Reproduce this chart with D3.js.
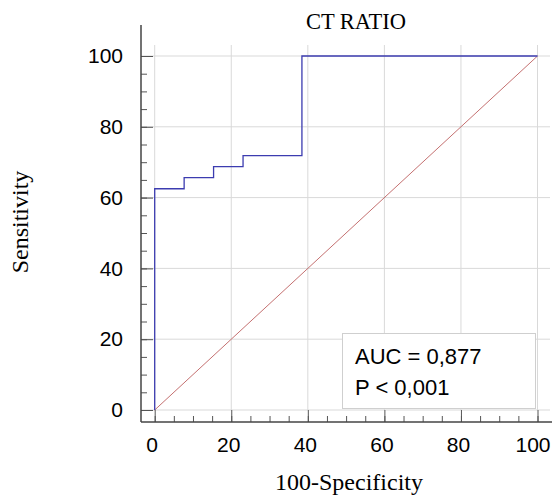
<!DOCTYPE html>
<html lang="en">
<head>
    <meta charset="UTF-8">
    <title>CT RATIO ROC</title>
    <script src="https://d3js.org/d3.v7.min.js"></script>
    <style>
        body { margin: 0; background: #fff; }
        .tick text { font-family: "Liberation Sans", Arial, sans-serif; font-size: 21px; fill: #000; }
        .label { font-family: "Liberation Serif", "Times New Roman", serif; fill: #000; }
    </style>
</head>
<body>
    <div id="chart"></div>
    <script>
        // ROC points (100-Specificity, Sensitivity)
        const fpr = [0, 0, 7.69, 15.38, 23.08, 38.46, 100];
        const tpr = [0, 62.5, 65.63, 68.75, 71.88, 100, 100];
        const majorTicks = [0, 20, 40, 60, 80, 100];
        const aucText = ['AUC = 0,877', 'P < 0,001'];

        const width = 554, height = 495;
        const svg = d3.select('#chart').append('svg')
            .attr('width', width)
            .attr('height', height);

        const x = d3.scaleLinear().domain([0, 100]).range([154.7, 537.5]);
        const y = d3.scaleLinear().domain([0, 100]).range([410, 56]);

        const axisX = 141, axisY = 422;
        const minorTicks = d3.range(0, 101, 5);

        // grid
        svg.append('g').selectAll('line.vg')
            .data(majorTicks).join('line')
            .attr('x1', d => x(d)).attr('x2', d => x(d))
            .attr('y1', 45).attr('y2', 410)
            .attr('stroke', '#d9d9d9').attr('stroke-width', 1);
        svg.append('g').selectAll('line.hg')
            .data(majorTicks).join('line')
            .attr('x1', axisX).attr('x2', 550)
            .attr('y1', d => y(d)).attr('y2', d => y(d))
            .attr('stroke', '#d9d9d9').attr('stroke-width', 1);

        // y axis
        svg.append('g')
            .attr('transform', `translate(${axisX},0)`)
            .call(d3.axisLeft(y).tickValues(minorTicks).tickSize(-6).tickFormat(''))
            .call(g => g.select('.domain').remove())
            .selectAll('line').attr('stroke', '#555');
        svg.append('g')
            .attr('transform', `translate(${axisX},0)`)
            .call(d3.axisLeft(y).tickValues(majorTicks).tickSize(-12).tickPadding(18))
            .call(g => g.select('.domain').remove())
            .call(g => g.selectAll('line').attr('stroke', '#555'))
            .call(g => g.selectAll('text').attr('font-size', null).attr('font-family', null));

        // x axis
        svg.append('g')
            .attr('transform', `translate(0,${axisY})`)
            .call(d3.axisBottom(x).tickValues(minorTicks).tickSize(-6).tickFormat(''))
            .call(g => g.select('.domain').remove())
            .selectAll('line').attr('stroke', '#555');
        svg.append('g')
            .attr('transform', `translate(0,${axisY})`)
            .call(d3.axisBottom(x).tickValues(majorTicks).tickSize(-12).tickPadding(15))
            .call(g => g.select('.domain').remove())
            .call(g => g.selectAll('line').attr('stroke', '#555'))
            .call(g => g.selectAll('text')
                .attr('font-size', null).attr('font-family', null)
                .attr('dx', d => d === 100 ? -5 : -3));

        svg.append('line')
            .attr('x1', axisX).attr('x2', axisX).attr('y1', 25).attr('y2', axisY)
            .attr('stroke', '#444').attr('stroke-width', 1.5);
        svg.append('line')
            .attr('x1', axisX).attr('x2', 552).attr('y1', axisY).attr('y2', axisY)
            .attr('stroke', '#444').attr('stroke-width', 1.5);

        // diagonal reference
        svg.append('line')
            .attr('x1', x(0)).attr('y1', y(0)).attr('x2', x(100)).attr('y2', y(100))
            .attr('stroke', '#c47070').attr('stroke-width', 1);

        // ROC curve
        const line = d3.line()
            .x((d, i) => x(fpr[i]))
            .y(d => y(d))
            .curve(d3.curveStepAfter);
        svg.append('path')
            .attr('d', line(tpr))
            .attr('fill', 'none')
            .attr('stroke', '#3c3cb0')
            .attr('stroke-width', 1.3);

        // AUC box
        svg.append('rect')
            .attr('x', 342.5).attr('y', 333.5).attr('width', 193).attr('height', 75)
            .attr('fill', '#fff').attr('stroke', '#cfcfcf');
        svg.append('g').selectAll('text')
            .data(aucText).join('text')
            .attr('x', 355)
            .attr('y', (d, i) => 364 + i * 31)
            .attr('font-family', '"Liberation Sans", Arial, sans-serif')
            .attr('font-size', 22)
            .text(d => d);

        // labels
        svg.append('text').attr('class', 'label')
            .attr('x', 356).attr('y', 29)
            .attr('text-anchor', 'middle').attr('font-size', 22.5)
            .text('CT RATIO');
        svg.append('text').attr('class', 'label')
            .attr('x', 349).attr('y', 490)
            .attr('text-anchor', 'middle').attr('font-size', 24)
            .text('100-Specificity');
        svg.append('text').attr('class', 'label')
            .attr('transform', 'translate(28,222) rotate(-90)')
            .attr('text-anchor', 'middle').attr('font-size', 24)
            .text('Sensitivity');
    </script>
</body>
</html>
